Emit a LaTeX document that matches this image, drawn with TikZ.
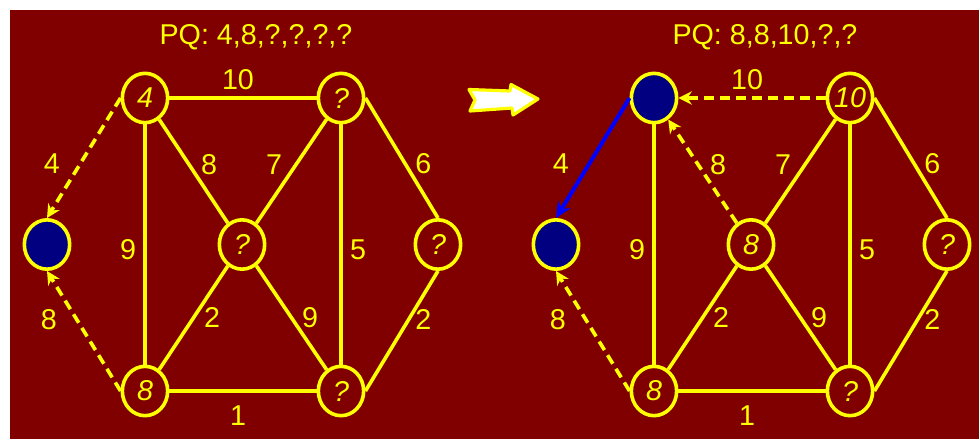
\documentclass[tikz,border=0pt]{standalone}
\usepackage{fontspec}
\setmainfont{Liberation Sans}
\usepackage{xcolor}
\definecolor{slide}{HTML}{800000}
\definecolor{gold}{HTML}{FFFF00}
\definecolor{navy}{HTML}{000080}
\definecolor{treeblue}{HTML}{0000FF}
\usepackage{tikz}
\usetikzlibrary{arrows.meta, shapes.geometric}
\tikzset{
  >={Stealth[length=10pt, width=10pt]},
  vtx/.style={ellipse, draw=gold, line width=2.7pt, minimum width=34pt, minimum height=37pt,
    inner sep=0pt, text=gold, font=\fontsize{21.5}{21.5}\selectfont\itshape},
  done/.style={vtx, fill=navy},
  link/.style={draw=gold, line width=2.7pt},
  cand/.style={link, ->, dash pattern=on 7.5pt off 4.5pt},
  tree/.style={->, draw=treeblue, line width=3pt, >={Stealth[length=12pt, width=11pt]}},
  wt/.style={text=gold, font=\fontsize{21.5}{21.5}\selectfont, inner sep=0pt},
}

\begin{document}
\begin{tikzpicture}[x=0.75pt, y=-0.75pt]
  \useasboundingbox (0,0) rectangle (979,439);
  \fill[slide] (10,10) rectangle (979,439);

  % before: first two vertices done
  \node[wt] (pqa) at (256,37) {PQ: 4,8,?,?,?,?};
  \node[done] (la) at (47,244.5) {};
  \node[vtx] (l4) at (145,98) {4};
  \node[vtx] (lt) at (341,98) {?};
  \node[vtx] (lc) at (242,244.5) {?};
  \node[vtx] (lr) at (438,244.5) {?};
  \node[vtx] (l8) at (145,391) {8};
  \node[vtx] (lb) at (341,391) {?};

  \draw[link] (l4.east) -- node[wt, shift={(-5,-18)}] {10} (lt.west);
  \draw[link] (l4.south) -- node[wt, shift={(-17,5.5)}] {9} (l8.north);
  \draw[link] (l4) -- node[wt, shift={(15.5,-6.5)}] {8} (lc);
  \draw[link] (lt) -- node[wt, shift={(-17.5,-6.5)}] {7} (lc);
  \draw[link] (lt.south) -- node[wt, shift={(17,5.5)}] {5} (lb.north);
  \draw[link] (lt.east) -- node[wt, shift={(21.5,6)}] {6} (lr.north);
  \draw[link] (lc) -- node[wt, shift={(18.5,0)}] {2} (l8);
  \draw[link] (lc) -- node[wt, shift={(18.5,0)}] {9} (lb);
  \draw[link] (lr.south) -- node[wt, shift={(21.5,-11)}] {2} (lb.east);
  \draw[link] (l8.east) -- node[wt, shift={(-5,25)}] {1} (lb.west);
  \draw[cand] (l4.west) -- node[wt, shift={(-32,6)}] {4} (la.north);
  \draw[cand] (l8.west) -- node[wt, shift={(-35,-11)}] {8} (la.south);

  % step arrow
  \filldraw[fill=white, draw=gold, line width=2.4pt, line join=round]
    (469,89.5) -- (510,91) -- (511,84.5) -- (538,99) -- (513,115) -- (512,108)
    -- (470,111) -- (475,100) -- cycle;

  % after: vertex 4 joins the tree
  \node[wt] (pqb) at (765,37) {PQ: 8,8,10,?,?};
  \node[done] (ra) at (556,244.5) {};
  \node[done] (r4) at (654,98) {};
  \node[vtx] (rt) at (850,98) {10};
  \node[vtx] (rc) at (751,244.5) {8};
  \node[vtx] (rr) at (947,244.5) {?};
  \node[vtx] (r8) at (654,391) {8};
  \node[vtx] (rb) at (850,391) {?};

  \draw[cand] (rt.west) -- node[wt, shift={(-5,-18)}] {10} (r4.east);
  \draw[link] (r4.south) -- node[wt, shift={(-17,5.5)}] {9} (r8.north);
  \draw[cand] (rc) -- node[wt, shift={(15.5,-6.5)}] {8} (r4);
  \draw[link] (rt) -- node[wt, shift={(-17.5,-6.5)}] {7} (rc);
  \draw[link] (rt.south) -- node[wt, shift={(17,5.5)}] {5} (rb.north);
  \draw[link] (rt.east) -- node[wt, shift={(21.5,6)}] {6} (rr.north);
  \draw[link] (rc) -- node[wt, shift={(18.5,0)}] {2} (r8);
  \draw[link] (rc) -- node[wt, shift={(18.5,0)}] {9} (rb);
  \draw[link] (rr.south) -- node[wt, shift={(21.5,-11)}] {2} (rb.east);
  \draw[link] (r8.east) -- node[wt, shift={(-5,25)}] {1} (rb.west);
  \draw[tree] (r4.west) -- node[wt, shift={(-32,6)}] {4} (ra.north);
  \draw[cand] (r8.west) -- node[wt, shift={(-35,-11)}] {8} (ra.south);
\end{tikzpicture}
\end{document}
